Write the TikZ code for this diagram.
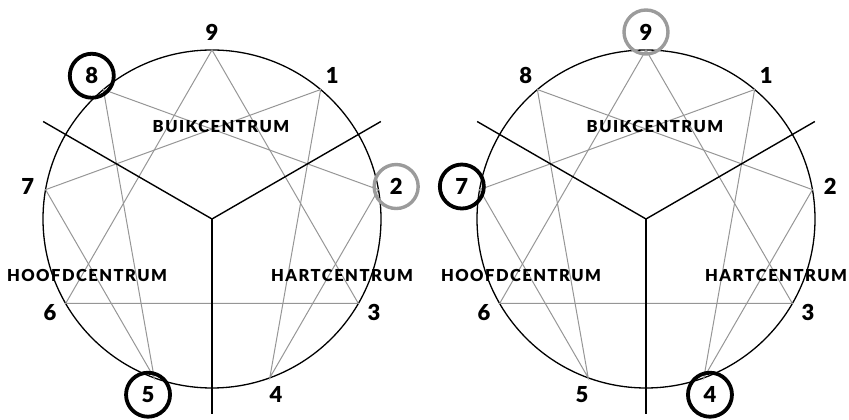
\documentclass[tikz,border=0pt]{standalone}
\usepackage{fontspec}
\setsansfont{Lato}[BoldFont={Lato Black}]
\newfontfamily\centrefont{Lato}[LetterSpace=9,BoldFont={Lato Black}]
\usetikzlibrary{positioning}
\definecolor{linegray}{RGB}{150,150,150}
\definecolor{ringgray}{RGB}{155,155,155}

\begin{document}
\begin{tikzpicture}[x=1pt,y=1pt,
  rim/.style={draw=black,line width=1.3pt},
  chord/.style={draw=linegray,line width=1pt},
  axis/.style={draw=black,line width=1.4pt},
  num/.style={circle,inner sep=0pt,minimum size=44pt,
    font=\fontsize{22}{22}\selectfont\bfseries\sffamily},
  hot/.style={num,draw=black,line width=3.8pt},
  warm/.style={num,draw=ringgray,line width=3.4pt},
  centre/.style={font=\fontsize{16.5}{16.5}\selectfont\bfseries\centrefont,inner sep=1pt}]
\useasboundingbox (0,0) rectangle (849,420);
% L: left enneagram, R: right one; \hi,\lo ringed black, \gr ringed gray
\foreach \e/\cx/\hi/\lo/\gr in {L/212/8/5/2, R/646/7/4/9} {
  \begin{scope}[shift={(\cx,201)}]
    \coordinate (\e c) at (0,0);
    \foreach \k in {1,...,9}
      \coordinate (\e\k) at ({90-40*\k}:169);
    \coordinate (\e a) at (30:195);
    \coordinate (\e b) at (150:195);
    \coordinate (\e d) at (270:195);
    \draw[rim] (\e c) circle (169);
    \draw[chord] (\e9) -- (\e3) -- (\e6) -- cycle;
    \draw[chord] (\e1) -- (\e4) -- (\e2) -- (\e8) -- (\e5) -- (\e7) -- cycle;
    \draw[axis] (\e a) -- (\e c) -- (\e b);
    \draw[axis] (\e c) -- (\e d);
    \foreach \k in {1,...,9} {
      \ifnum\k=\gr \def\ring{warm}\else
        \ifnum\k=\hi \def\ring{hot}\else
          \ifnum\k=\lo \def\ring{hot}\else \def\ring{num}\fi\fi\fi
      \node[\ring] (\e n\k) at ({90-40*\k}:187) {\k};
    }
    \node[centre] (\e gut) at (9,93) {BUIKCENTRUM};
    \node[centre] (\e head) at (-125,-56) {HOOFDCENTRUM};
    \node[centre] (\e heart) at (130,-56) {HARTCENTRUM};
  \end{scope}
}
\end{tikzpicture}
\end{document}
